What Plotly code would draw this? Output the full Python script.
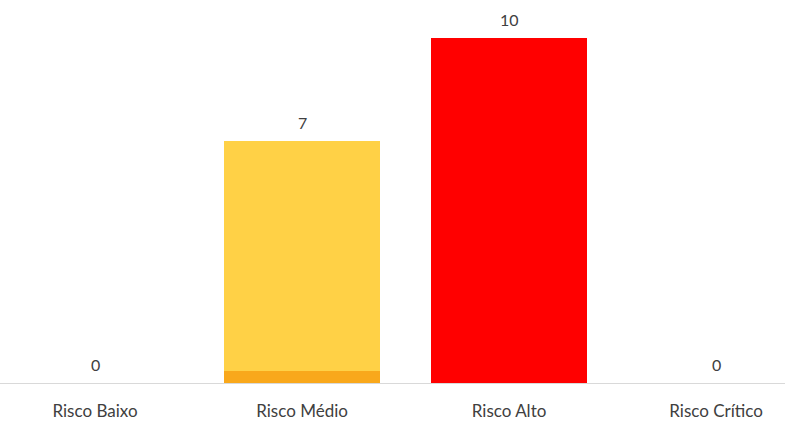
import plotly.graph_objects as go

categories = ["Risco Baixo", "Risco Médio", "Risco Alto", "Risco Crítico"]
totals = [0, 7, 10, 0]
base_part = [0, 0.35, 0, 0]
upper_part = [0, 6.65, 10, 0]
base_colors = ["#F9A81B", "#F9A81B", "#FF0000", "#F9A81B"]
upper_colors = ["#FFD146", "#FFD146", "#FF0000", "#FFD146"]

FONT = "Lato, Open Sans, sans-serif"

fig = go.Figure()
fig.add_trace(go.Bar(x=categories, y=base_part, marker=dict(color=base_colors, line=dict(width=0)),
                     width=0.75, hoverinfo="skip"))
fig.add_trace(go.Bar(x=categories, y=upper_part, marker=dict(color=upper_colors, line=dict(width=0)),
                     width=0.75, hoverinfo="skip"))

for c, v in zip(categories, totals):
    fig.add_annotation(x=c, y=v, text=str(v), showarrow=False, yanchor="bottom", yshift=7,
                       font=dict(family=FONT, size=16, color="#404040"))

fig.update_layout(
    barmode="stack",
    showlegend=False,
    width=785, height=422,
    margin=dict(l=0, r=0, t=0, b=39),
    paper_bgcolor="white", plot_bgcolor="white",
    xaxis=dict(range=[-0.459, 3.333], showline=True, linecolor="#D9D9D9", linewidth=1,
               showgrid=False, ticks="", ticklabelstandoff=13,
               tickfont=dict(family=FONT, size=17, color="#404040")),
    yaxis=dict(range=[0, 11.1], visible=False, showgrid=False, zeroline=False),
)
fig.write_html("out.html")
